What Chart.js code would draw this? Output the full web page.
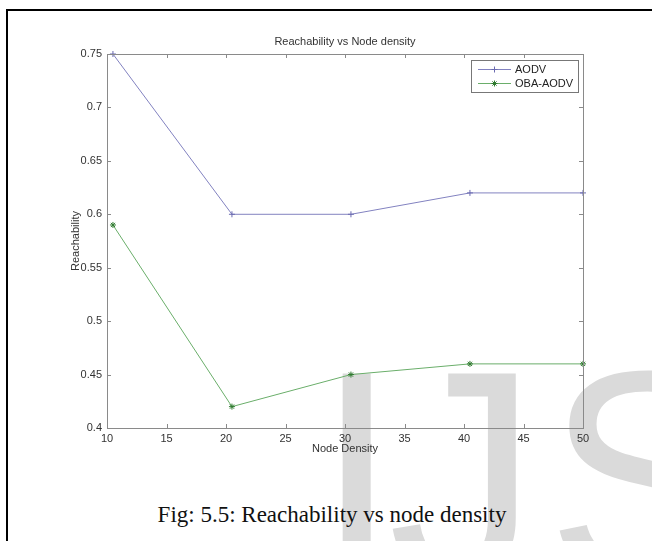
<!DOCTYPE html>
<html>
<head>
<meta charset="utf-8">
<title>Reachability vs Node density</title>
<script src="https://cdn.jsdelivr.net/npm/chart.js@4.4.1/dist/chart.umd.min.js"></script>
<style>
    html, body { margin: 0; padding: 0; background: #fff; }
    body { width: 652px; height: 541px; position: relative; overflow: hidden; }
    .frame {
        position: absolute; left: 6px; top: 9px; width: 700px; height: 600px;
        border-left: 2px solid #000; border-top: 2px solid #000;
    }
    .mark {
        position: absolute; top: 326px;
        font: 300px "Liberation Sans", Arial, sans-serif; line-height: 1;
        color: #dadada; white-space: nowrap;
    }
    .chart-box { position: absolute; left: 0; top: 0; width: 652px; height: 470px; }
    .caption {
        position: absolute; left: 6px; width: 652px; top: 502px; text-align: center;
        font: 23px "Liberation Serif", "Times New Roman", serif; color: #111;
    }
</style>
</head>
<body>
<div class="frame"></div>
<div class="mark" style="left:315px">I</div>
<div class="mark" style="left:388px">J</div>
<div class="mark" style="left:546px">S</div>
<div class="chart-box"><canvas id="reachChart" width="652" height="470"></canvas></div>
<div class="caption">Fig: 5.5: Reachability vs node density</div>

<script>
// values
const nodeDensity = [10.5, 20.5, 30.5, 40.5, 50];
const aodvReach = [0.75, 0.60, 0.60, 0.62, 0.62];
const obaAodvReach = [0.59, 0.42, 0.45, 0.46, 0.46];
const xTickValues = [10, 15, 20, 25, 30, 35, 40, 45, 50];
const yTickValues = [0.4, 0.45, 0.5, 0.55, 0.6, 0.65, 0.7, 0.75];

const FONT = '"Liberation Sans", Arial, sans-serif';
const AXIS_COLOR = '#8a8a8a';
const TEXT_COLOR = '#333';

const toPoints = (xs, ys) => xs.map((x, i) => ({ x: x, y: ys[i] }));

// matlab style box with inward ticks on all four sides
const boxPlugin = {
    id: 'matlabBox',
    afterDatasetsDraw(chart) {
        const { ctx, chartArea: a, scales } = chart;
        const len = 4;
        ctx.save();
        ctx.strokeStyle = AXIS_COLOR;
        ctx.lineWidth = 1;
        ctx.strokeRect(a.left + 0.5, a.top + 0.5, a.right - a.left, a.bottom - a.top);
        ctx.beginPath();
        scales.x.ticks.forEach(t => {
            const px = Math.round(scales.x.getPixelForValue(t.value)) + 0.5;
            ctx.moveTo(px, a.bottom); ctx.lineTo(px, a.bottom - len);
            ctx.moveTo(px, a.top); ctx.lineTo(px, a.top + len);
        });
        scales.y.ticks.forEach(t => {
            const py = Math.round(scales.y.getPixelForValue(t.value)) + 0.5;
            ctx.moveTo(a.left, py); ctx.lineTo(a.left + len, py);
            ctx.moveTo(a.right, py); ctx.lineTo(a.right - len, py);
        });
        ctx.stroke();
        ctx.restore();
    }
};

// legend box in the top right corner of the axes
const legendPlugin = {
    id: 'boxLegend',
    afterDraw(chart) {
        const { ctx, chartArea: a } = chart;
        const w = 107, h = 32;
        const x0 = a.right - 5 - w, y0 = a.top + 6;
        ctx.save();
        ctx.fillStyle = '#fff';
        ctx.fillRect(x0, y0, w, h);
        ctx.strokeStyle = '#777';
        ctx.lineWidth = 1;
        ctx.strokeRect(x0 + 0.5, y0 + 0.5, w, h);
        chart.data.datasets.forEach((ds, i) => {
            const y = y0 + 9 + i * 14;
            ctx.strokeStyle = ds.borderColor;
            ctx.beginPath();
            ctx.moveTo(x0 + 7, y + 0.5);
            ctx.lineTo(x0 + 40, y + 0.5);
            ctx.stroke();
            ctx.strokeStyle = ds.pointBorderColor;
            Chart.helpers.drawPoint(ctx, {
                pointStyle: ds.pointStyle, radius: 3, borderWidth: 1, rotation: 0
            }, x0 + 23.5, y + 0.5);
            ctx.fillStyle = '#222';
            ctx.font = '11px ' + FONT;
            ctx.textBaseline = 'middle';
            ctx.fillText(ds.label, x0 + 44, y + 1);
        });
        ctx.restore();
    }
};

new Chart(document.getElementById('reachChart'), {
    type: 'line',
    data: {
        datasets: [{
            label: 'AODV',
            data: toPoints(nodeDensity, aodvReach),
            borderColor: '#8282c0',
            backgroundColor: '#6a6ab0',
            borderWidth: 1,
            pointStyle: 'cross',
            pointRadius: 3,
            pointBorderColor: '#6a6ab0',
            tension: 0,
            clip: false
        }, {
            label: 'OBA-AODV',
            data: toPoints(nodeDensity, obaAodvReach),
            borderColor: '#6aae6a',
            backgroundColor: '#2f7a2f',
            borderWidth: 1,
            pointStyle: 'star',
            pointRadius: 3,
            pointBorderColor: '#2f7a2f',
            tension: 0,
            clip: false
        }]
    },
    options: {
        responsive: false,
        animation: false,
        devicePixelRatio: 1,
        layout: { padding: { left: 69, right: 69, top: 35, bottom: 0 } },
        plugins: {
            legend: { display: false },
            tooltip: { enabled: false },
            title: {
                display: true,
                text: 'Reachability vs Node density',
                fullSize: false,
                color: TEXT_COLOR,
                font: { family: FONT, size: 11, weight: 'normal' },
                padding: { top: 0, bottom: 5.8 }
            }
        },
        scales: {
            x: {
                type: 'linear',
                min: 10,
                max: 50,
                afterBuildTicks: s => { s.ticks = xTickValues.map(v => ({ value: v })); },
                afterFit: s => { s.height = 42; },
                grid: { display: false, drawTicks: false },
                border: { display: false },
                ticks: {
                    color: TEXT_COLOR, padding: 4, maxRotation: 0, autoSkip: false,
                    font: { family: FONT, size: 11 }
                },
                title: {
                    display: true, text: 'Node Density', color: TEXT_COLOR,
                    font: { family: FONT, size: 11 },
                    padding: { top: 0, bottom: 14 }
                }
            },
            y: {
                min: 0.4,
                max: 0.75,
                afterBuildTicks: s => { s.ticks = yTickValues.map(v => ({ value: v })); },
                afterFit: s => { s.width = 38; },
                grid: { display: false, drawTicks: false },
                border: { display: false },
                ticks: {
                    color: TEXT_COLOR, padding: 5, autoSkip: false,
                    font: { family: FONT, size: 11 },
                    callback: v => String(+Number(v).toFixed(2))
                },
                title: {
                    display: true, text: 'Reachability', color: TEXT_COLOR,
                    font: { family: FONT, size: 11 },
                    padding: { top: 0, bottom: 0 }
                }
            }
        }
    },
    plugins: [boxPlugin, legendPlugin]
});
</script>
</body>
</html>
